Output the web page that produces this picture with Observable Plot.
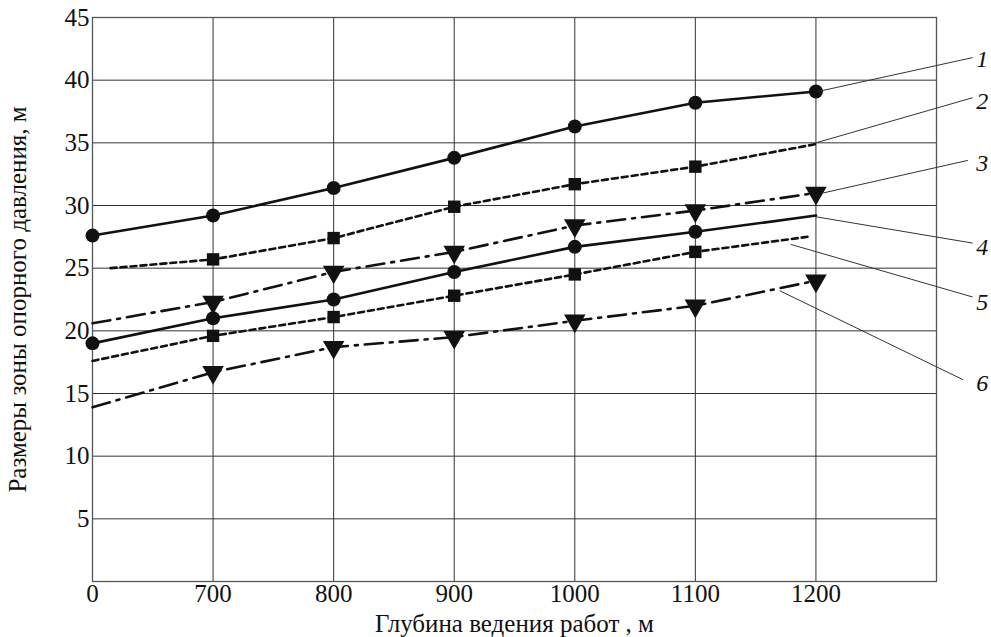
<!DOCTYPE html>
<html>
<head>
<meta charset="utf-8">
<script src="https://cdn.jsdelivr.net/npm/d3@7"></script>
<script src="https://cdn.jsdelivr.net/npm/@observablehq/plot@0.6"></script>
<style>
  html, body { margin: 0; padding: 0; background: #fff; }
  svg { display: block; }
  svg text { font-family: 'Liberation Serif', 'DejaVu Serif', serif; }
  g[aria-label="x-axis tick label"], g[aria-label="y-axis tick label"] { font-size: 25px; }
  g[aria-label="x-axis label"], g[aria-label="y-axis label"] { font-size: 25px; }
</style>
</head>
<body>
<div id="chart"></div>
<script>
// Depth (m); the leftmost position is labelled "0"
const depths = [600, 700, 800, 900, 1000, 1100, 1200];
const xTicks = [600, 700, 800, 900, 1000, 1100, 1200];
const xTickLabels = ["0", "700", "800", "900", "1000", "1100", "1200"];
const yTicks = [0, 5, 10, 15, 20, 25, 30, 35, 40, 45];

// Series values (m)
const s1x = [600, 700, 800, 900, 1000, 1100, 1200];
const s1 = [27.6, 29.2, 31.4, 33.8, 36.3, 38.2, 39.1];
const s1Marked = [1, 1, 1, 1, 1, 1, 1];

const s2x = [615, 700, 800, 900, 1000, 1100, 1200];
const s2 = [25.0, 25.7, 27.4, 29.9, 31.7, 33.1, 34.9];
const s2Marked = [0, 1, 1, 1, 1, 1, 0];

const s3x = [600, 700, 800, 900, 1000, 1100, 1200];
const s3 = [20.6, 22.3, 24.7, 26.3, 28.4, 29.6, 31.0];
const s3Marked = [0, 1, 1, 1, 1, 1, 1];

const s4x = [600, 700, 800, 900, 1000, 1100, 1200];
const s4 = [19.0, 21.0, 22.5, 24.7, 26.7, 27.9, 29.2];
const s4Marked = [1, 1, 1, 1, 1, 1, 0];

const s5x = [600, 700, 800, 900, 1000, 1100, 1193];
const s5 = [17.6, 19.6, 21.1, 22.8, 24.5, 26.3, 27.5];
const s5Marked = [0, 1, 1, 1, 1, 1, 0];

const s6x = [600, 700, 800, 900, 1000, 1100, 1200];
const s6 = [13.9, 16.7, 18.7, 19.5, 20.8, 22.0, 24.0];
const s6Marked = [0, 1, 1, 1, 1, 1, 1];

// Curve labels and leader lines (data units)
const curveNames = ["1", "2", "3", "4", "5", "6"];
const leaderFromX = [1202, 1200, 1206, 1200, 1179, 1170];
const leaderFromY = [39.1, 35.0, 31.0, 29.1, 26.9, 23.2];
const leaderToX = [1330, 1330, 1326, 1330, 1330, 1322];
const leaderToY = [41.8, 38.6, 33.6, 27.0, 22.7, 16.1];
const labelX = [1343, 1343, 1343, 1343, 1343, 1343];
const labelY = [41.7, 38.3, 33.4, 26.7, 22.3, 15.8];

const styles = [
  {dash: null, symbol: "circle", r: 7, rotate: 0},
  {dash: "6,4", symbol: "square", r: 7, rotate: 0},
  {dash: "18,7,3,7", symbol: "triangle", r: 8, rotate: 180},
  {dash: null, symbol: "circle", r: 7, rotate: 0},
  {dash: "6,4", symbol: "square", r: 7, rotate: 0},
  {dash: "18,7,3,7", symbol: "triangle", r: 8, rotate: 180}
];

const seriesList = [
  [s1x, s1, s1Marked], [s2x, s2, s2Marked], [s3x, s3, s3Marked],
  [s4x, s4, s4Marked], [s5x, s5, s5Marked], [s6x, s6, s6Marked]
];

const marks = [];
// grid
marks.push(Plot.ruleX(xTicks.slice(1), {stroke: "#333", strokeWidth: 1}));
marks.push(Plot.ruleY(yTicks.slice(1, -1), {stroke: "#333", strokeWidth: 1}));
marks.push(Plot.frame({stroke: "#555", strokeWidth: 1.3}));

seriesList.forEach(([xs, ys, mk], i) => {
  const st = styles[i];
  const rows = xs.map((x, j) => ({x, y: ys[j], m: mk[j]}));
  marks.push(Plot.line(rows, {x: "x", y: "y", stroke: "#111", strokeWidth: 2.6, strokeDasharray: st.dash}));
  marks.push(Plot.dot(rows.filter(d => d.m), {
    x: "x", y: "y", symbol: st.symbol, r: st.r, rotate: st.rotate, fill: "#111", stroke: "none"
  }));
});

const leaders = curveNames.map((n, i) => ({
  n, x1: leaderFromX[i], y1: leaderFromY[i], x2: leaderToX[i], y2: leaderToY[i], lx: labelX[i], ly: labelY[i]
}));
marks.push(Plot.link(leaders, {x1: "x1", y1: "y1", x2: "x2", y2: "y2", stroke: "#333", strokeWidth: 1}));
marks.push(Plot.text(leaders, {x: "lx", y: "ly", text: "n", fontStyle: "italic", fontSize: 24, textAnchor: "end", fill: "#111"}));

marks.push(Plot.axisX({
  ticks: xTicks, tickSize: 0, tickPadding: 3,
  tickFormat: d => xTickLabels[xTicks.indexOf(d)],
  label: "Глубина ведения работ , м", labelAnchor: "center", labelArrow: "none", labelOffset: 50
}));
marks.push(Plot.axisY({
  ticks: yTicks.slice(1), tickSize: 0, tickPadding: 3,
  label: "Размеры зоны опорного давления, м", labelAnchor: "center", labelArrow: "none", labelOffset: 84
}));

const chart = Plot.plot({
  width: 991,
  height: 637,
  marginLeft: 92,
  marginRight: 55,
  marginTop: 17,
  marginBottom: 56,
  x: {domain: [600, 1300]},
  y: {domain: [0, 45]},
  style: {fontFamily: "'Liberation Serif', 'DejaVu Serif', serif", fontSize: "21px", color: "#111", background: "#fff"},
  marks
});
document.getElementById("chart").appendChild(chart);
</script>
</body>
</html>
